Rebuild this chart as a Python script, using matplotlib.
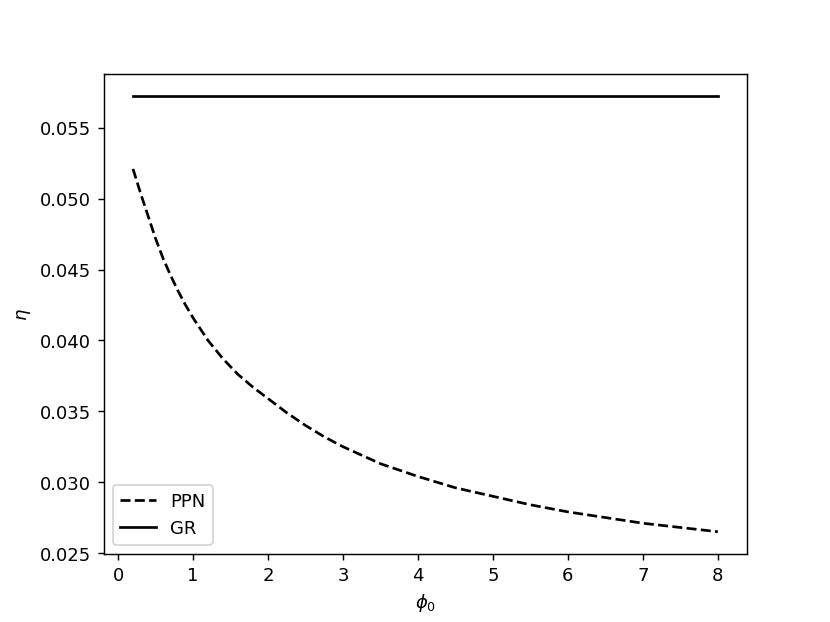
import matplotlib
matplotlib.use("Agg")
import matplotlib.pyplot as plt

phi0 = [0.2, 0.3, 0.4, 0.5, 0.6, 0.7, 0.8, 0.9, 1.0, 1.2, 1.4, 1.6, 1.8,
        2.0, 2.25, 2.5, 2.75, 3.0, 3.5, 4.0, 4.5, 5.0, 5.5, 6.0, 6.5,
        7.0, 7.5, 8.0]
eta_ppn = [0.0521, 0.0504, 0.0488, 0.0472, 0.0458, 0.0446, 0.0435, 0.0425,
           0.0416, 0.0400, 0.0387, 0.0376, 0.0367, 0.0359, 0.0349, 0.0340,
           0.0332, 0.0325, 0.0313, 0.0304, 0.0296, 0.0290, 0.0284, 0.0279,
           0.0275, 0.0271, 0.0268, 0.0265]
eta_gr = [0.05725] * len(phi0)

fig, ax = plt.subplots(figsize=(6.4, 4.8), dpi=129.7)
ax.plot(phi0, eta_ppn, 'k--', label='PPN')
ax.plot(phi0, eta_gr, 'k-', label='GR')
ax.set_xlabel(r'$\phi_0$')
ax.set_ylabel(r'$\eta$')
ax.legend(loc='lower left')
fig.savefig('out.png', dpi=129.7)
